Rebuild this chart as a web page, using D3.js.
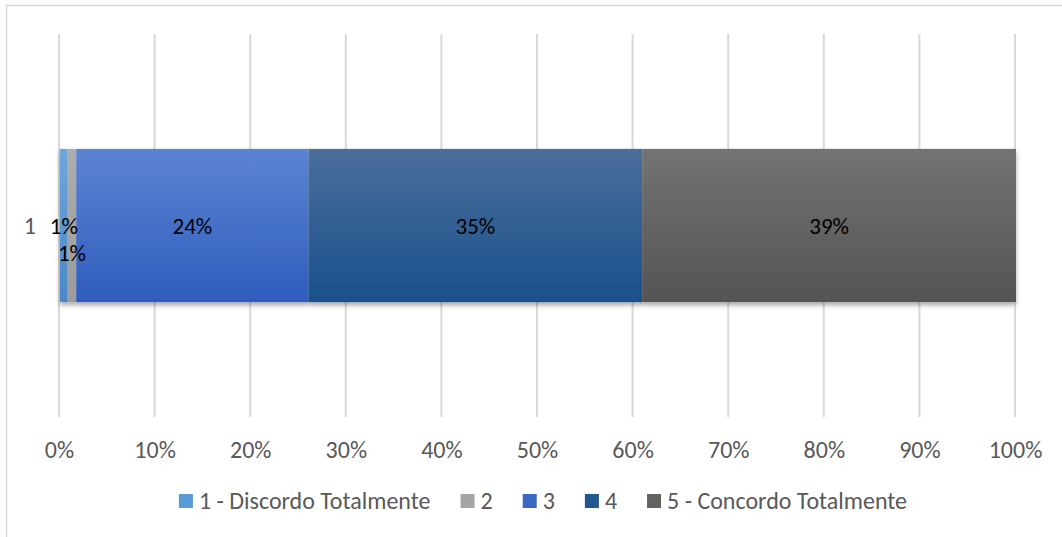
<!DOCTYPE html>
<html><head><meta charset="utf-8">
<script src="https://cdn.jsdelivr.net/npm/d3@7"></script>
<style>body{margin:0;background:#fff}svg{display:block}</style>
</head><body><svg id="c" width="1062" height="537"></svg>
<script>
const categories = ["1"];
const seriesNames = ["1 - Discordo Totalmente", "2", "3", "4", "5 - Concordo Totalmente"];
const seriesValues = [0.8, 0.9, 24.3, 34.9, 39.1];
const seriesLabels = ["1%", "1%", "24%", "35%", "39%"];
const tickValues = [0, 10, 20, 30, 40, 50, 60, 70, 80, 90, 100];
const colorsTop = ["#6ea6dd", "#adadad", "#5b84d2", "#4a6f9b", "#737373"];
const colorsBot = ["#4a88c9", "#9c9c9c", "#2f5dbd", "#1a508c", "#545454"];
const legendColors = ["#5b9bd5", "#a5a5a5", "#3a66c4", "#24568f", "#626262"];

const svg = d3.select("#c");
const font = "Carlito, 'Liberation Sans', 'Open Sans', sans-serif";
const defs = svg.append("defs");
seriesNames.forEach((s, i) => {
  const g = defs.append("linearGradient").attr("id", "g" + i).attr("x1", 0).attr("y1", 0).attr("x2", 0).attr("y2", 1);
  g.append("stop").attr("offset", "0%").attr("stop-color", colorsTop[i]);
  g.append("stop").attr("offset", "100%").attr("stop-color", colorsBot[i]);
});
const f = defs.append("filter").attr("id", "sh").attr("x", "-5%").attr("y", "-10%").attr("width", "110%").attr("height", "130%");
f.append("feDropShadow").attr("dx", 0).attr("dy", 3).attr("stdDeviation", 2.5).attr("flood-color", "#000").attr("flood-opacity", 0.35);

// chart border
svg.append("rect").attr("x", 6.5).attr("y", 5.5).attr("width", 1070).attr("height", 560)
  .attr("fill", "none").attr("stroke", "#d9d9d9").attr("stroke-width", 1.5);

const x = d3.scaleLinear().domain([0, 100]).range([59, 1015]);
const y = d3.scaleBand().domain(categories).range([34, 417]).paddingInner(0.6).paddingOuter(0.3);

// gridlines
svg.append("g").selectAll("line").data(tickValues).join("line")
  .attr("x1", d => x(d)).attr("x2", d => x(d)).attr("y1", 34).attr("y2", 417)
  .attr("stroke", "#d9d9d9").attr("stroke-width", 2);

// axis labels
const ax = d3.axisBottom(x).tickValues(tickValues).tickFormat(d => d + "%").tickSize(0).tickPadding(0);
const axg = svg.append("g").attr("transform", "translate(0,450)").call(ax);
axg.select(".domain").remove();
axg.selectAll("text").attr("font-family", font).attr("font-size", 24).attr("fill", "#595959").attr("dy", "0.35em");

// category label
svg.append("text").attr("x", 36).attr("y", y("1") + y.bandwidth() / 2).attr("dy", "0.35em")
  .attr("text-anchor", "end").attr("font-family", font).attr("font-size", 24).attr("fill", "#595959").text(categories[0]);

// stacked segments
let cum = 0;
const segs = seriesValues.map((v, i) => { const s = { i, x0: cum, x1: cum + v, v }; cum += v; return s; });
const bw = y.bandwidth();
const by = y("1");
const barG = svg.append("g").attr("filter", "url(#sh)");
barG.selectAll("rect").data(segs).join("rect")
  .attr("x", d => x(d.x0) + 1).attr("width", d => x(d.x1) - x(d.x0))
  .attr("y", by).attr("height", bw)
  .attr("fill", d => "url(#g" + d.i + ")");

// data labels
svg.append("g").selectAll("text").data(segs).join("text")
  .attr("x", d => (x(d.x0) + x(d.x1)) / 2 + 1)
  .attr("y", (d, i) => by + bw / 2 + (i === 1 ? 27 : 0))
  .attr("dy", "0.35em").attr("text-anchor", "middle")
  .attr("font-family", font).attr("font-size", 23).attr("fill", "#000")
  .text((d, i) => seriesLabels[i]);

// legend
const lg = svg.append("g").attr("transform", "translate(0,501)");
const items = lg.selectAll("g").data(seriesNames).join("g");
items.append("rect").attr("width", 14).attr("height", 14).attr("y", -7).attr("fill", (d, i) => legendColors[i]);
items.append("text").attr("x", 20).attr("dy", "0.35em").attr("font-family", font).attr("font-size", 24)
  .attr("fill", "#595959").text(d => d);
const widths = [];
items.each(function () { widths.push(this.getBBox().width); });
const gap = 30;
const total = d3.sum(widths) + gap * (widths.length - 1);
let lx = 543 - total / 2;
items.attr("transform", (d, i) => { const t = "translate(" + lx + ",0)"; lx += widths[i] + gap; return t; });
</script></body></html>
